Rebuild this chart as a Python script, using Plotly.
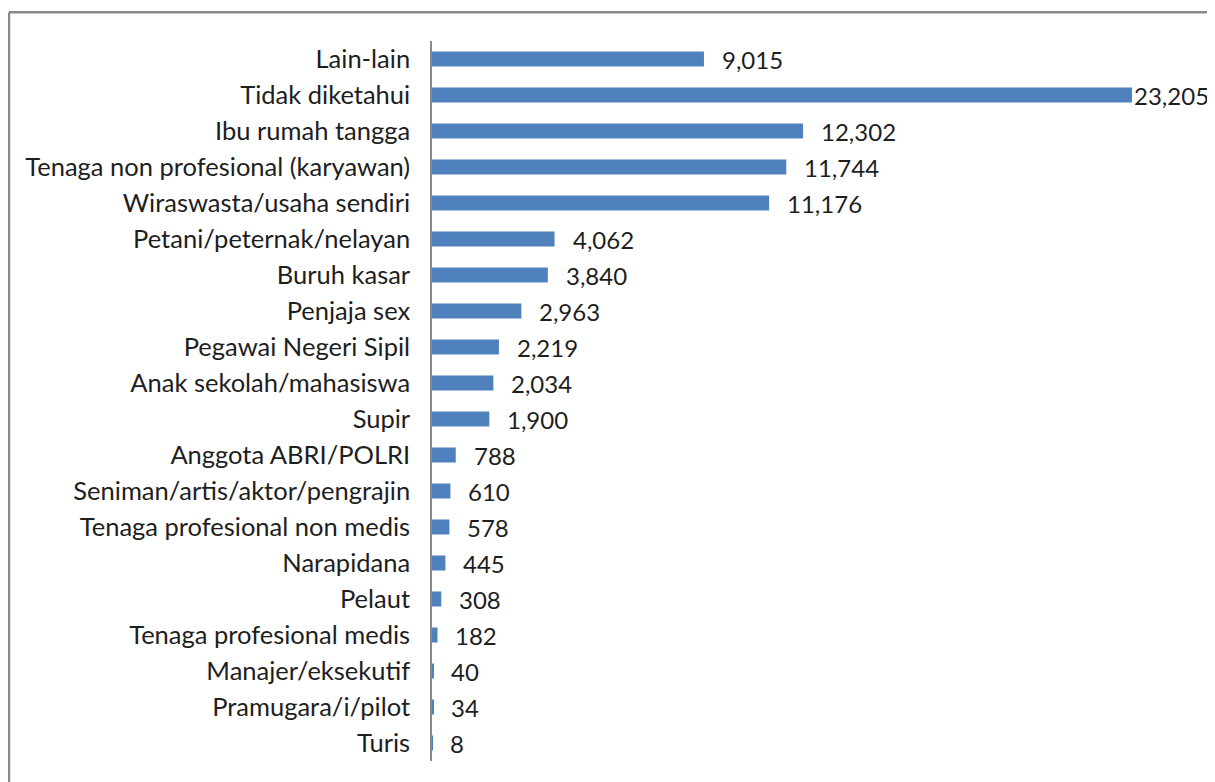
import plotly.graph_objects as go

categories = ["Lain-lain", "Tidak diketahui", "Ibu rumah tangga", "Tenaga non profesional (karyawan)",
              "Wiraswasta/usaha sendiri", "Petani/peternak/nelayan", "Buruh kasar", "Penjaja sex",
              "Pegawai Negeri Sipil", "Anak sekolah/mahasiswa", "Supir", "Anggota ABRI/POLRI",
              "Seniman/artis/aktor/pengrajin", "Tenaga profesional non medis", "Narapidana", "Pelaut",
              "Tenaga profesional medis", "Manajer/eksekutif", "Pramugara/i/pilot", "Turis"]
values = [9015, 23205, 12302, 11744, 11176, 4062, 3840, 2963, 2219, 2034, 1900, 788, 610, 578,
          445, 308, 182, 40, 34, 8]

# page body has an 8px margin, so the figure is smaller and everything is offset by -8
W, H = 1207, 774
ML, MR, MT, MB = 424, 83, 33, 21
PW, PH = W - ML - MR, H - MT - MB
FONT = "Lato"
TXT = "#1e1e1e"

fig = go.Figure(go.Bar(
    y=categories, x=values, orientation="h",
    marker=dict(color="#4F81BD", line=dict(width=0)),
    hoverinfo="x+y",
))

vmax = max(values)
for c, v in zip(categories, values):
    fig.add_annotation(x=v, y=c, text=f"{v:,}", showarrow=False, xanchor="left",
                       xshift=0 if v == vmax else 16,
                       font=dict(family=FONT, size=24, color=TXT))

def px_x(p):
    return (p - ML) / PW

def px_y(p):
    return (H - MB - p) / PH

fig.add_shape(type="line", xref="paper", yref="paper", x0=px_x(1), x1=px_x(1), y0=px_y(800), y1=px_y(4.2),
              line=dict(color="#8a8a8a", width=2.5))
fig.add_shape(type="line", xref="paper", yref="paper", x0=px_x(1), x1=px_x(1206), y0=px_y(4.2), y1=px_y(4.2),
              line=dict(color="#8a8a8a", width=2.5))
fig.add_shape(type="line", xref="paper", yref="paper", x0=px_x(1206), x1=px_x(1206), y0=px_y(4.2), y1=px_y(800),
              line=dict(color="#b0b0b0", width=1.5))

fig.update_layout(
    width=W, height=H,
    margin=dict(l=ML, r=MR, t=MT, b=MB),
    paper_bgcolor="white", plot_bgcolor="white",
    bargap=0.583,
    showlegend=False,
    font=dict(family=FONT, size=25, color=TXT),
    xaxis=dict(range=[0, vmax], visible=False, fixedrange=True),
    yaxis=dict(autorange="reversed", showline=True, linecolor="#888888", linewidth=1.5,
               layer="above traces",
               ticks="", showgrid=False, zeroline=False, ticklabelstandoff=15,
               tickfont=dict(family=FONT, size=25.5, color=TXT)),
)

fig.write_html("out.html")
